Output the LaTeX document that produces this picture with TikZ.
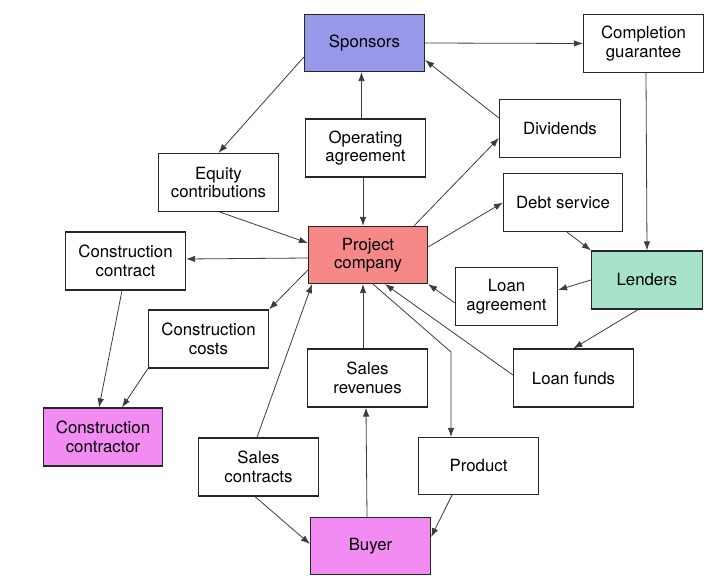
\documentclass[tikz,border=0pt]{standalone}
\usepackage{fontspec}
\setmainfont{TeX Gyre Heros}
\usetikzlibrary{arrows.meta}
\definecolor{sponsorc}{RGB}{152,152,232}
\definecolor{projc}{RGB}{246,136,136}
\definecolor{lendc}{RGB}{166,226,200}
\definecolor{pinkc}{RGB}{242,140,242}
\definecolor{linec}{RGB}{60,60,60}
\tikzset{
  box/.style={draw=black!85, line width=1.2pt, rectangle, align=center,
    minimum width=120pt, minimum height=58pt, inner sep=2pt,
    font=\fontsize{16.8}{18.5}\selectfont, fill=white},
  conn/.style={draw=linec, line width=0.8pt, -{Latex[length=9pt,width=6.5pt]}},
  plain/.style={draw=linec, line width=0.8pt}
}
\begin{document}
\begin{tikzpicture}[x=1pt,y=-1pt]
\useasboundingbox (0,0) rectangle (724,588);
% nodes
\node[box, fill=sponsorc, minimum width=120pt, minimum height=57pt] (sp) at (364.5,43) {Sponsors};
\node[box, minimum width=120pt] (cg) at (643.5,43.5) {Completion\\guarantee};
\node[box] (oa) at (365.5,148) {Operating\\agreement};
\node[box] (eq) at (218.5,182.5) {Equity\\contributions};
\node[box, minimum width=121pt] (dv) at (560,128.5) {Dividends};
\node[box, minimum width=119pt] (ds) at (563,202.5) {Debt service};
\node[box, fill=lendc, minimum width=111pt] (ld) at (647,280) {Lenders};
\node[box, minimum width=102pt] (la) at (506.5,296.5) {Loan\\agreement};
\node[box] (lf) at (573.5,378) {Loan funds};
\node[box, fill=projc, minimum width=119pt, minimum height=57pt] (pc) at (368,255) {Project\\company};
\node[box] (cc) at (125.5,261) {Construction\\contract};
\node[box] (cco) at (208.5,339) {Construction\\costs};
\node[box, fill=pinkc, minimum width=119pt] (ccr) at (103,437) {Construction\\contractor};
\node[box] (sr) at (367.5,378) {Sales\\revenues};
\node[box] (sc) at (258.5,467) {Sales\\contracts};
\node[box, fill=pinkc, minimum height=57pt] (by) at (370.5,546) {Buyer};
\node[box, minimum height=57pt] (pr) at (478.5,466) {Product};
\coordinate (bend) at (451,352);
% connectors
\draw[conn] (sp.east) -- (cg.west);
\draw[conn] ([xshift=2.5pt]cg.south) -- (ld.north);
\draw[conn] ([yshift=-14pt]sp.west) -- (eq.north);
\draw[conn] ([xshift=-4pt]oa.north) -- ([xshift=-3pt]sp.south);
\draw[conn] ([xshift=-2.5pt]oa.south) -- ([xshift=-5pt]pc.north);
\draw[conn] ([yshift=10.5pt]dv.west) -- ([yshift=-17pt]sp.east);
\draw[conn] ([xshift=46pt]pc.north) -- ([yshift=-9.5pt]dv.west);
\draw[conn] ([yshift=8pt]pc.east) -- (ds.west);
\draw[conn] ([xshift=4pt]ds.south) -- (ld.north west);
\draw[conn] (ld.west) -- ([yshift=6.5pt]la.east);
\draw[conn] ([yshift=-6.5pt]la.west) -- (pc.south east);
\draw[conn] ([xshift=-9pt]ld.south) -- (lf.north);
\draw[conn] ([yshift=3pt]lf.west) -- ([xshift=17pt]pc.south);
\draw[conn] ([xshift=5pt]pc.south) -- (bend) -- ([xshift=-27.5pt]pr.north);
\draw[conn] ([xshift=-26.5pt]pr.south) -- ([yshift=9pt]by.east);
\draw[conn] ([xshift=-3.5pt]by.north) -- ([xshift=-1.5pt]sr.south);
\draw[conn] ([xshift=-4.5pt]sr.north) -- ([xshift=-5pt]pc.south);
\draw[conn] ([xshift=-1.5pt]sc.north) -- ([xshift=-56pt]pc.south);
\draw[conn] ([xshift=-3.5pt]sc.south) -- ([yshift=2pt]by.west);
\draw[conn] ([yshift=-3pt]pc.west) -- ([yshift=2pt]cc.east);
\draw[conn] ([yshift=-15pt]pc.west) -- (cco.north east);
\draw[conn] ([xshift=-3.5pt]cc.south) -- ([xshift=-4pt]ccr.north);
\draw[conn] (cco.south west) -- ([xshift=19pt]ccr.north);
\draw[conn] ([xshift=1.5pt]eq.south) -- ([yshift=12pt]pc.west);
\end{tikzpicture}
\end{document}
